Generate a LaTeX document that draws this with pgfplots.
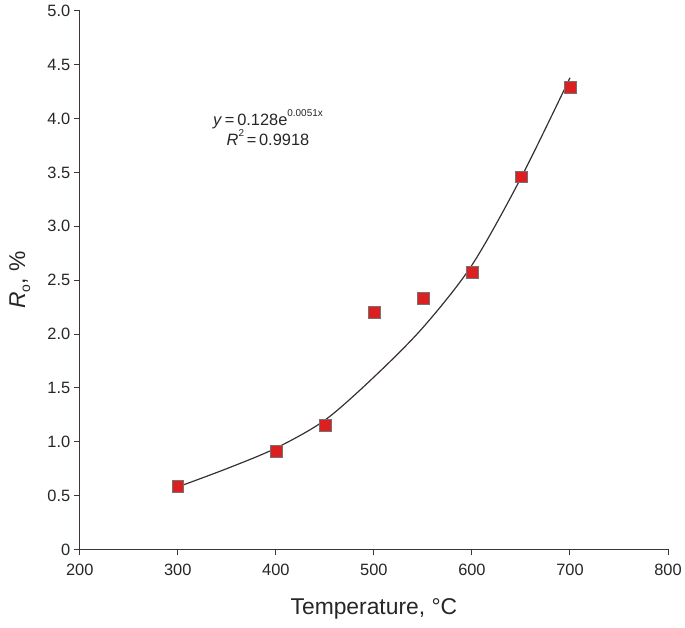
\documentclass[border=0pt]{standalone}
\usepackage{fontspec}
\setmainfont{Liberation Sans}
\usepackage{pgfplots}
\pgfplotsset{compat=1.18}
\definecolor{mk}{RGB}{218,32,32}
\definecolor{ax}{RGB}{62,52,52}
\begin{document}
\begin{tikzpicture}
\begin{axis}[
  width=590bp, height=540bp, scale only axis,
  xmin=200, xmax=800, ymin=0, ymax=5,
  axis lines=left,
  axis line style={ax, line width=1.2bp, -},
  xtick={200,300,...,800},
  ytick={0,0.5,1,1.5,2,2.5,3,3.5,4,4.5,5},
  yticklabels={0,0.5,1.0,1.5,2.0,2.5,3.0,3.5,4.0,4.5,5.0},
  tick style={ax, line width=1bp},
  tick align=outside,
  major tick length=6bp,
  /pgf/number format/assume math mode=true,
  /pgf/number format/1000 sep={},
  ticklabel style={font=\fontsize{16.5}{19}\selectfont, text=black!85},
  xticklabel style={yshift=-5bp},
  label style={font=\fontsize{23}{26}\selectfont, text=black!85},
  xlabel={Temperature, °C},
  ylabel={\textit{R}\raisebox{-0.22em}{\fontsize{14}{14}\selectfont o}, \%},
  xlabel style={at={(axis description cs:0.5,-0.111)}, anchor=center},
  ylabel style={at={(axis description cs:-0.102,0.5)}, anchor=center},
  clip=false,
]
\path[draw=none] (rel axis cs:-0.1356,1.0204) -- (rel axis cs:-0.1356,-0.1444);
\addplot[smooth, ax!90!black, line width=1.2bp] coordinates {
  (300,0.58) (350,0.75) (400,0.94) (450,1.20) (500,1.60)
  (550,2.06) (600,2.64) (650,3.45) (700,4.38)
};
\addplot[only marks, mark=square*, mark size=6bp,
  mark options={fill=mk, draw=ax!70, line width=0.6bp}] coordinates {
  (300,0.59) (400,0.91) (450,1.15) (500,2.20)
  (550,2.33) (600,2.57) (650,3.46) (700,4.29)
};
\node[align=center, font=\fontsize{16.5}{20}\selectfont, text=black!85]
  at (axis cs:392,3.92)
  {\textit{y}\,=\,0.128e\raisebox{0.55em}{\fontsize{10}{10}\selectfont 0.0051x}\\\textit{R}\raisebox{0.55em}{\fontsize{10}{10}\selectfont 2}\,=\,0.9918};
\end{axis}
\end{tikzpicture}
\end{document}
